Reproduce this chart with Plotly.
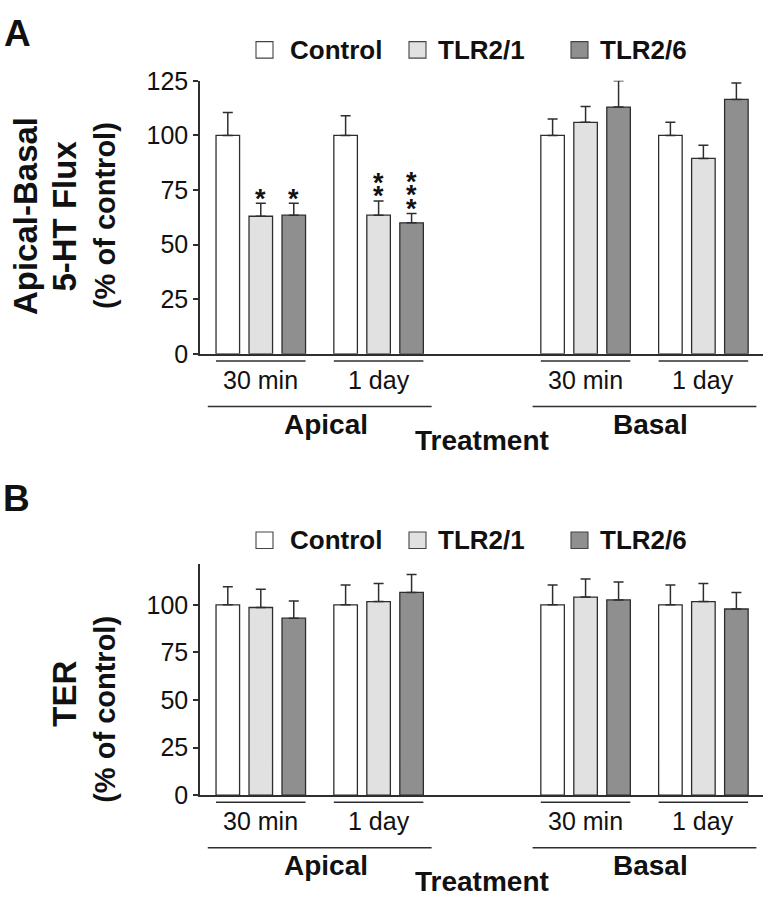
import plotly.graph_objects as go

# ---- data -------------------------------------------------------------
series = ["Control", "TLR2/1", "TLR2/6"]
timepoints = ["30 min", "1 day", "30 min", "1 day"]
sides = ["Apical", "Basal"]
group_pos = [0, 1, 2.757, 3.757]          # x position of each treatment group

# Panel A: apical-basal 5-HT flux (% of control)
flux_control = [100, 100, 100, 100]
flux_control_err = [10.5, 9.0, 7.5, 6.0]
flux_tlr21 = [63.0, 63.5, 106.0, 89.5]
flux_tlr21_err = [6.0, 6.5, 7.3, 6.0]
flux_tlr26 = [63.5, 60.0, 113.0, 116.5]
flux_tlr26_err = [5.5, 4.3, 12.0, 7.5]
flux_tlr21_sig = ["*", "**", "", ""]
flux_tlr26_sig = ["*", "***", "", ""]

# Panel B: TER (% of control)
ter_control = [100, 100, 100, 100]
ter_control_err = [9.5, 10.4, 10.4, 10.4]
ter_tlr21 = [98.6, 101.7, 104.1, 101.7]
ter_tlr21_err = [9.6, 9.5, 9.5, 9.5]
ter_tlr26 = [93.0, 106.5, 102.6, 97.8]
ter_tlr26_err = [9.0, 9.5, 9.4, 8.7]

# ---- styling ----------------------------------------------------------
W, H = 764, 905
FILL = ["#ffffff", "#e1e1e1", "#8f8f8f"]
INK = "#2e2e2e"
FONT = "Liberation Sans, Arial, sans-serif"
PITCH = 0.28          # spacing between bars inside a group (x units)
BAR_W = 0.20


def px(x):
    return x / W


def py(y):
    return 1 - y / H


fig = go.Figure()

panels = [
    dict(xa="x", ya="y", bottom=350.7,
         vals=[flux_control, flux_tlr21, flux_tlr26],
         errs=[flux_control_err, flux_tlr21_err, flux_tlr26_err],
         sig=[None, flux_tlr21_sig, flux_tlr26_sig]),
    dict(xa="x2", ya="y2", bottom=806.0,
         vals=[ter_control, ter_tlr21, ter_tlr26],
         errs=[ter_control_err, ter_tlr21_err, ter_tlr26_err],
         sig=[None, None, None]),
]

annotations = []
shapes = []

for p in panels:
    for i, name in enumerate(series):
        fig.add_trace(go.Bar(
            x=group_pos, y=p["vals"][i], name=name, showlegend=False,
            xaxis=p["xa"], yaxis=p["ya"],
            marker=dict(color=FILL[i], line=dict(color=INK, width=1.3)),
            error_y=dict(type="data", array=p["errs"][i], symmetric=False,
                         arrayminus=[0] * len(group_pos),
                         color=INK, thickness=1.5, width=5),
        ))
        sig = p["sig"][i]
        if sig:
            for g, s in enumerate(sig):
                for k in range(len(s)):
                    annotations.append(dict(
                        x=group_pos[g] + (i - 1) * PITCH, y=p["vals"][i][g] + p["errs"][i][g],
                        xref=p["xa"], yref=p["ya"], text="*", showarrow=False,
                        xanchor="center", yanchor="middle", yshift=4.5 + 13.5 * k,
                        font=dict(size=27, family=FONT, color="#111", weight="bold")))

    b = p["bottom"]
    # time-point brackets and labels
    for g, lab in enumerate(timepoints):
        shapes.append(dict(type="line", xref=p["xa"], yref="paper",
                           x0=group_pos[g] - PITCH - BAR_W / 2, x1=group_pos[g] + PITCH + BAR_W / 2,
                           y0=py(b + 7.5), y1=py(b + 7.5), line=dict(color=INK, width=1.5)))
        annotations.append(dict(x=group_pos[g], y=py(b + 27), xref=p["xa"], yref="paper",
                                text=lab, showarrow=False, xanchor="center", yanchor="middle",
                                font=dict(size=25, family=FONT, color="#111")))
    # side brackets and labels
    for s, lab in enumerate(sides):
        g0, g1 = group_pos[2 * s], group_pos[2 * s + 1]
        shapes.append(dict(type="line", xref=p["xa"], yref="paper",
                           x0=g0 - 0.45, x1=g1 + 0.45, y0=py(b + 54.3), y1=py(b + 54.3),
                           line=dict(color=INK, width=1.5)))
        annotations.append(dict(x=(g0 + g1) / 2 + 0.05, y=py(b + 72.5), xref=p["xa"], yref="paper",
                                text=lab, showarrow=False, xanchor="center", yanchor="middle",
                                font=dict(size=28, family=FONT, color="#111", weight="bold")))
    annotations.append(dict(x=px(481.7), y=py(b + 89.5), xref="paper", yref="paper",
                            text="Treatment", showarrow=False, xanchor="center", yanchor="middle",
                            font=dict(size=28, family=FONT, color="#111", weight="bold")))

# legends drawn as squares + bold labels
legend_rows = [37.0, 543.0]
square_x = [256, 409, 571]
label_x = [288, 436, 598]
for yc in legend_rows:
    for i, name in enumerate(series):
        shapes.append(dict(type="rect", xref="paper", yref="paper",
                           x0=px(square_x[i]), x1=px(square_x[i] + 17),
                           y0=py(yc + 8.5), y1=py(yc - 8.5),
                           fillcolor=FILL[i], line=dict(color="#444", width=1.1)))
        annotations.append(dict(x=px(label_x[i]), y=py(yc), xref="paper", yref="paper",
                                text=name, showarrow=False, xanchor="left", yanchor="middle",
                                font=dict(size=26, family=FONT, color="#111", weight="bold")))


# panel letters and y titles
def side_text(text, x, y, size):
    annotations.append(dict(x=px(x), y=py(y), xref="paper", yref="paper", text=text,
                            showarrow=False, textangle=-90, xanchor="center", yanchor="middle",
                            font=dict(size=size, family=FONT, color="#111", weight="bold")))


for letter, (lx, ly) in zip(["A", "B"], [(17, 20), (16, 500)]):
    annotations.append(dict(x=px(lx), y=py(ly), xref="paper", yref="paper", text=letter,
                            showarrow=False, xanchor="center", yanchor="middle",
                            font=dict(size=37, family=FONT, color="#111", weight="bold")))
side_text("Apical-Basal", 25, 208.5, 33)
side_text("5-HT Flux", 64.5, 208.5, 33)
side_text("(% of control)", 105, 208.5, 29)
side_text("TER", 64.5, 702, 33)
side_text("(% of control)", 105, 718, 29)

xcommon = dict(range=[-0.516, 4.263], showline=True, linecolor=INK, linewidth=1.5,
               showticklabels=False, ticks="", showgrid=False, zeroline=False,
               domain=[px(200), px(763)])
ycommon = dict(showline=True, linecolor=INK, linewidth=1.5, ticks="outside", ticklen=5,
               tickwidth=1.5, tickcolor=INK, showgrid=False, zeroline=False,
               tickvals=[0, 25, 50, 75, 100, 125],
               tickfont=dict(size=25, family=FONT, color="#111"))

fig.update_layout(
    width=W, height=H,
    margin=dict(l=0, r=0, t=0, b=0),
    paper_bgcolor="white", plot_bgcolor="white",
    barmode="group", bargap=0.16, bargroupgap=0.286,
    showlegend=False,
    xaxis=dict(xcommon, anchor="y"),
    yaxis=dict(ycommon, anchor="x", range=[0, 125], domain=[py(350.7), py(69)]),
    xaxis2=dict(xcommon, anchor="y2"),
    yaxis2=dict(ycommon, anchor="x2", range=[0, 121.6], domain=[py(806), py(567.3)]),
    annotations=annotations,
    shapes=shapes,
)

# drop the browser's default 8px body margin so the figure sits at the page origin
fig.write_html("out.html", config={"displayModeBar": False},
               post_script="document.body.style.margin='0';")
